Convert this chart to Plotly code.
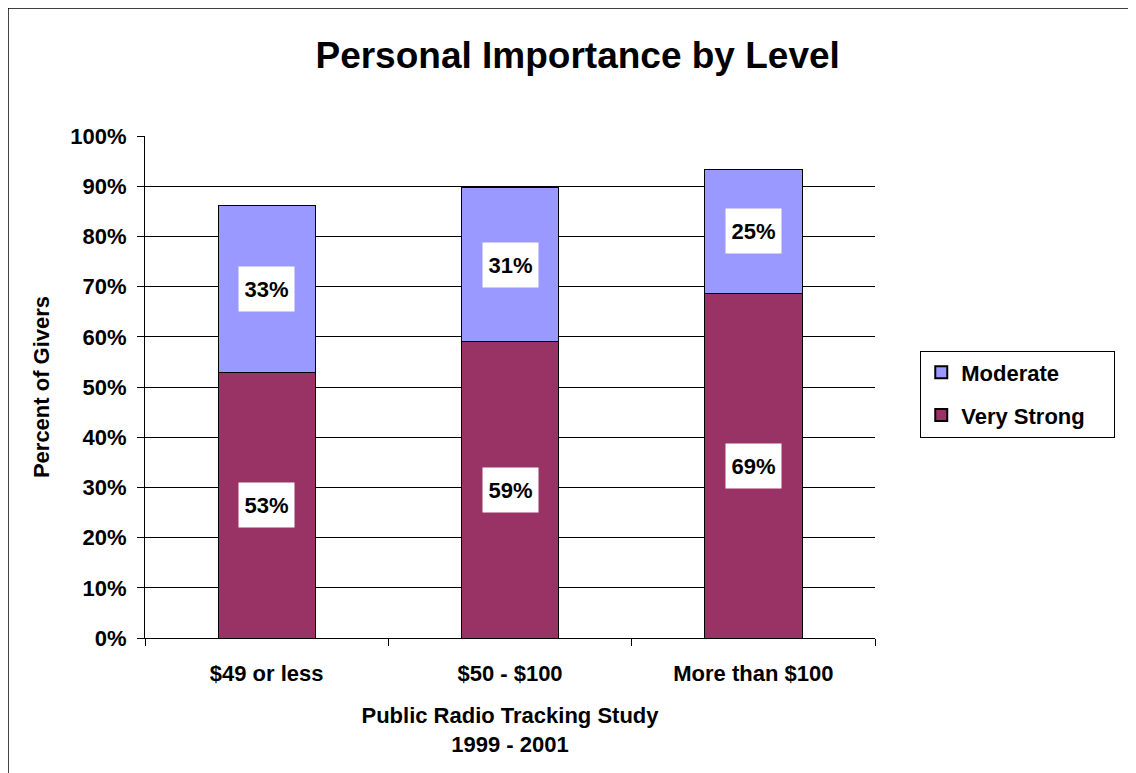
import plotly.graph_objects as go

# niveles de donación
categorias = ["$49 or less", "$50 - $100", "More than $100"]
muy_fuerte = [52.8, 59.0, 68.7]
moderada = [33.4, 30.8, 24.7]
ticks_y = [0, 10, 20, 30, 40, 50, 60, 70, 80, 90, 100]

FUENTE = "Liberation Sans, Arial, sans-serif"

fig = go.Figure()

fig.add_trace(go.Bar(
    x=categorias, y=muy_fuerte, name="<b>Very Strong</b>\u00a0\u00a0\u00a0\u00a0",
    marker=dict(color="#993366", line=dict(color="black", width=1)),
    width=0.4, legendgroup="vf", legendrank=2
))
fig.add_trace(go.Bar(
    x=categorias, y=moderada, name="<b>Moderate</b>",
    marker=dict(color="#9999FF", line=dict(color="black", width=1)),
    width=0.4, legendgroup="mo", legendrank=1
))

# etiquetas con fondo blanco
for cat, vf, mo in zip(categorias, muy_fuerte, moderada):
    for valor, centro in [(vf, vf / 2), (mo, vf + mo / 2)]:
        fig.add_annotation(
            x=cat, y=centro, text="<b>%d%%</b>" % round(valor),
            showarrow=False, bgcolor="white", width=53, height=42,
            font=dict(family=FUENTE, size=22, color="black")
        )

# marco exterior
fig.add_shape(type="rect", xref="paper", yref="paper",
              x0=-0.1877, x1=1.6, y0=-0.40, y1=1.255,
              line=dict(color="black", width=1.5), fillcolor="rgba(0,0,0,0)")

fig.update_layout(
    width=1128, height=765,
    barmode="stack",
    bargap=0.6,
    plot_bgcolor="white", paper_bgcolor="white",
    margin=dict(l=137, r=261, t=128, b=135),
    font=dict(family=FUENTE, color="black"),
    title=dict(text="<b>Personal Importance by Level</b>", x=0.505, xanchor="center",
               xref="container", y=0.938, yanchor="middle",
               font=dict(size=37, family=FUENTE, color="black")),
    showlegend=True,
    legend=dict(x=1.062, xanchor="left", y=0.486, yanchor="middle",
                traceorder="grouped", bordercolor="black", borderwidth=1,
                bgcolor="white", font=dict(size=22, family=FUENTE),
                itemsizing="constant", tracegroupgap=11),
    xaxis=dict(
        showline=True, linecolor="black", linewidth=1,
        ticks="outside", tickson="boundaries", ticklen=7, tickcolor="black",
        tickfont=dict(size=22, family=FUENTE), ticklabelstandoff=16,
        tickprefix="<b>", ticksuffix="</b>",
        title=dict(text="<b>Public Radio Tracking Study<br>1999 - 2001</b>",
                   font=dict(size=22, family=FUENTE), standoff=22),
    ),
    yaxis=dict(
        range=[0, 100], tickvals=ticks_y,
        ticktext=["<b>%d%%</b>" % v for v in ticks_y],
        showline=True, linecolor="black", linewidth=1,
        showgrid=True, gridcolor="black", gridwidth=1,
        ticks="outside", ticklen=7, tickcolor="black",
        tickfont=dict(size=22, family=FUENTE), ticklabelstandoff=6,
        title=dict(text="<b>Percent of Givers</b>",
                   font=dict(size=22, family=FUENTE), standoff=14),
    ),
)

fig.write_html("out.html")
